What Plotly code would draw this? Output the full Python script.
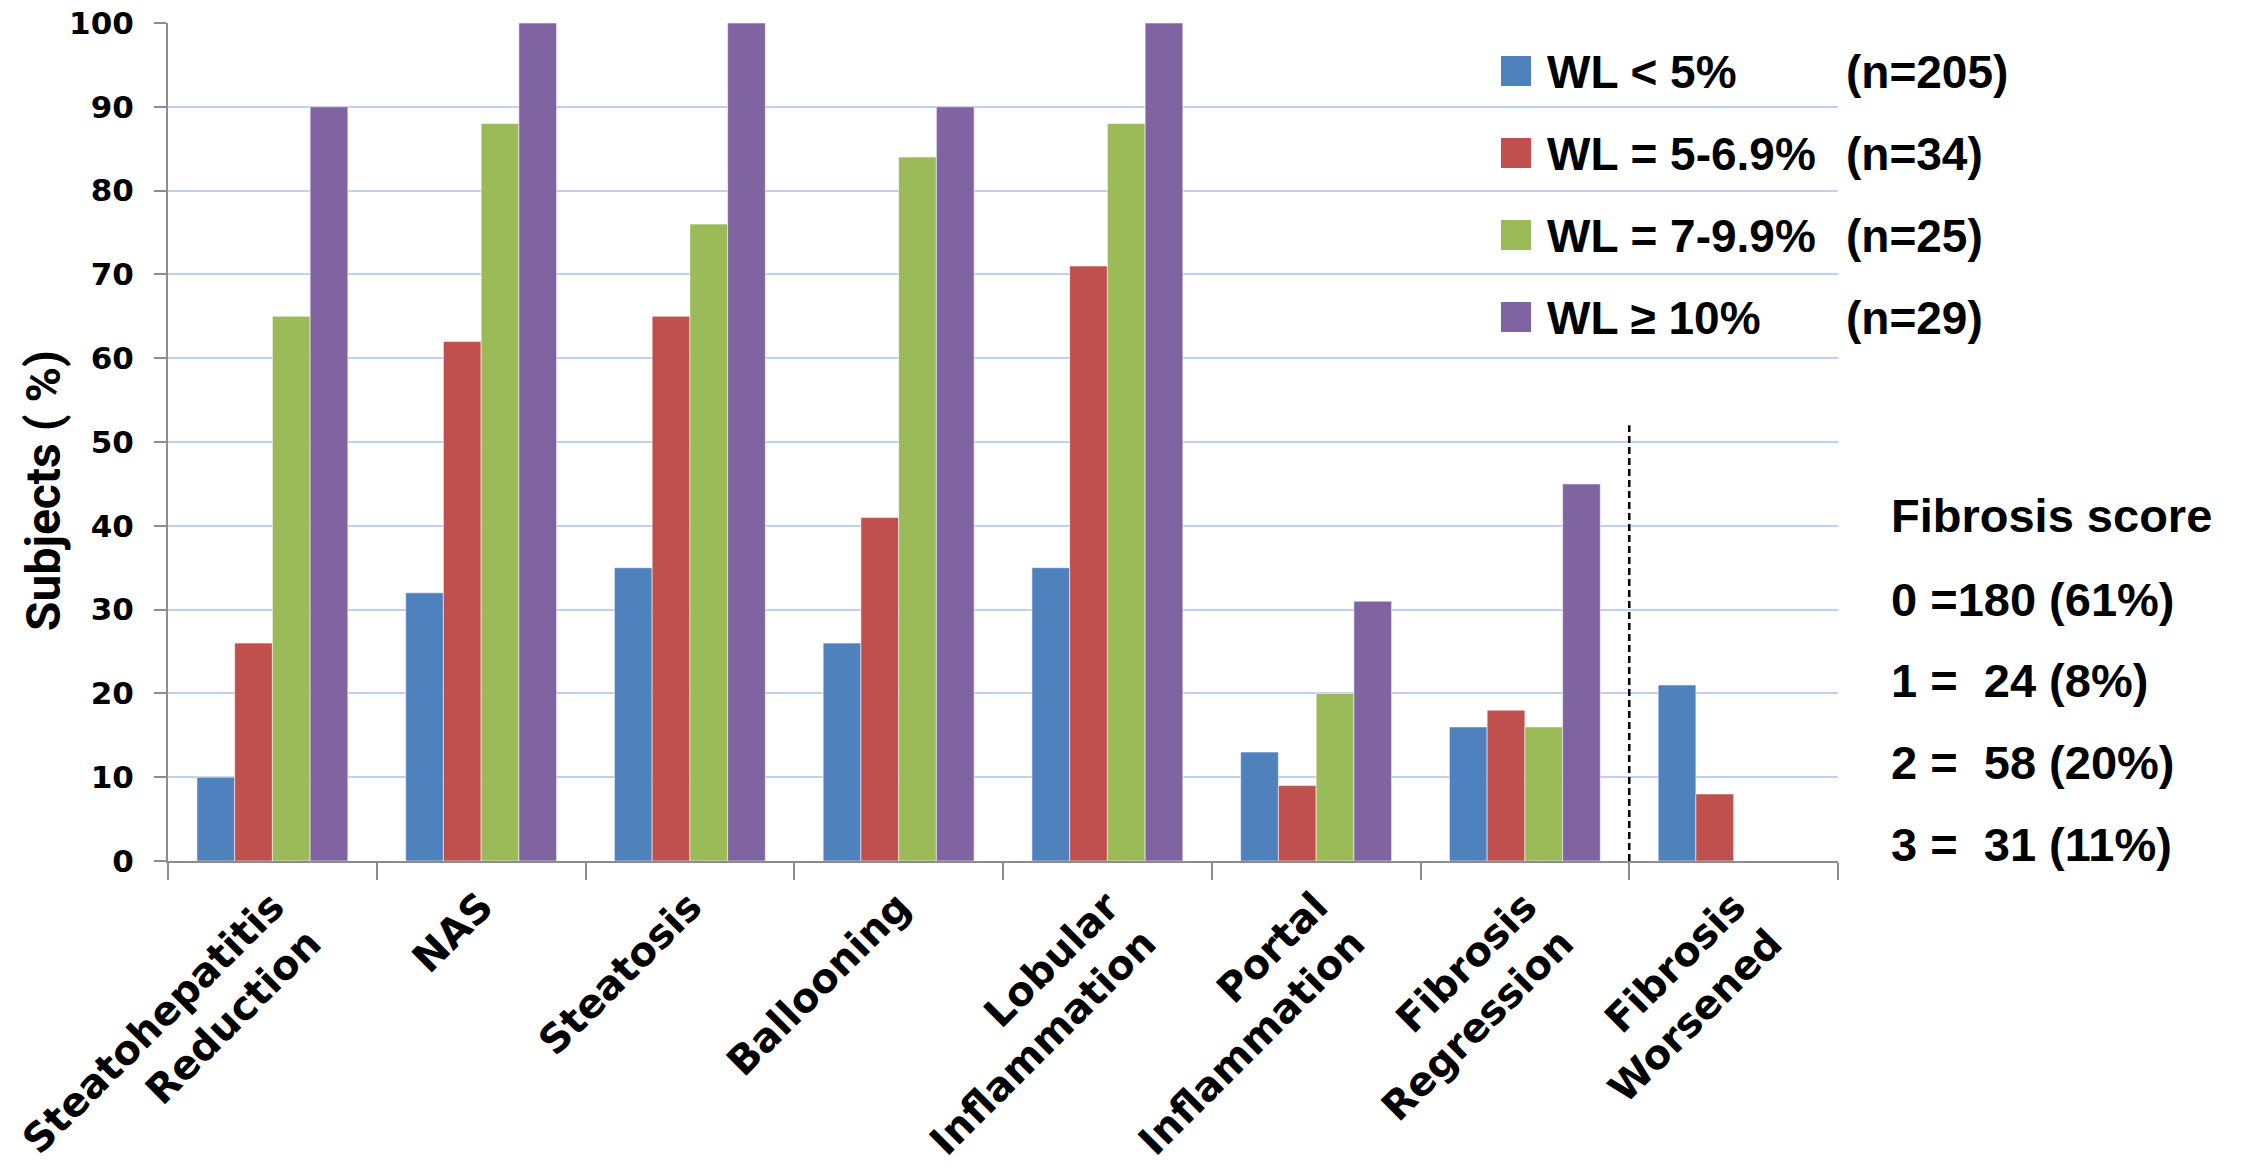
import plotly.graph_objects as go

# Histological outcome categories (x axis)
categories = [
    "Steatohepatitis<br>Reduction",
    "NAS",
    "Steatosis",
    "Ballooning",
    "Lobular<br>Inflammation",
    "Portal<br>Inflammation",
    "Fibrosis<br>Regression",
    "Fibrosis<br>Worsened",
]

# Weight-loss groups and their sizes
group_names = ["WL < 5%", "WL = 5-6.9%", "WL = 7-9.9%", "WL \u2265 10%"]
group_n = [205, 34, 25, 29]
group_colors = ["#4F81BD", "#C0504D", "#9BBB59", "#8064A2"]

# Subjects (%) per category for each weight-loss group
wl_lt5 = [10, 32, 35, 26, 35, 13, 16, 21]
wl_5_69 = [26, 62, 65, 41, 71, 9, 18, 8]
wl_7_99 = [65, 88, 76, 84, 88, 20, 16, None]
wl_ge10 = [90, 100, 100, 90, 100, 31, 45, None]
series = [wl_lt5, wl_5_69, wl_7_99, wl_ge10]

# Baseline fibrosis score distribution
fib_scores = [0, 1, 2, 3]
fib_counts = [180, 24, 58, 31]
fib_pct = [61, 8, 20, 11]

# Height of the separator before the last category (in axis units)
separator_top = 52

# Plot box in pixels
W, H = 2241, 1169
L, R, T, B = 168, 1838, 23, 861


def px_x(px):
    return (px - L) / (R - L)


def px_y(py):
    return (B - py) / (B - T)


AXIS_GRAY = "#8C8C8C"
GRID_BLUE = "#C0D1EE"
TEXT_FONT = dict(family="Liberation Sans, Arial, sans-serif", size=46, color="black", weight="bold")
FIB_FONT = dict(family="Liberation Sans, Arial, sans-serif", size=47, color="black", weight="bold")

fig = go.Figure()
for name, vals, color in zip(group_names, series, group_colors):
    fig.add_trace(go.Bar(
        x=categories,
        y=vals,
        name=name,
        marker=dict(color=color, line=dict(color="rgba(255,255,255,0.55)", width=1)),
        showlegend=False,
    ))

# Dashed separator between "Fibrosis Regression" and "Fibrosis Worsened"
fig.add_shape(type="line", xref="x", yref="y",
              x0=len(categories) - 1.5, x1=len(categories) - 1.5,
              y0=0, y1=separator_top,
              line=dict(color="black", width=2.5, dash="7px,4px"))

annotations = []
shapes = []

# Legend block: colour squares, group names and sizes
row_y = [71, 153, 235, 317]
for name, n, color, ry in zip(group_names, group_n, group_colors, row_y):
    shapes.append(dict(type="rect", xref="paper", yref="paper",
                       x0=px_x(1501), x1=px_x(1531), y0=px_y(ry + 15), y1=px_y(ry - 15),
                       fillcolor=color, line=dict(width=0)))
    annotations.append(dict(text=name, xref="paper", yref="paper", x=px_x(1545), y=px_y(ry + 1),
                            xanchor="left", yanchor="middle", showarrow=False, font=TEXT_FONT))
    annotations.append(dict(text=f"(n={n})", xref="paper", yref="paper", x=px_x(1844), y=px_y(ry + 1),
                            xanchor="left", yanchor="middle", showarrow=False, font=TEXT_FONT))

# Fibrosis score block
fib_lines = ["Fibrosis score"]
for s, c, p in zip(fib_scores, fib_counts, fib_pct):
    if c >= 100:
        fib_lines.append(f"{s} ={c} ({p}%)")
    else:
        fib_lines.append(f"{s} =\u00a0\u00a0{c} ({p}%)")
fib_y = [513, 597, 678, 760, 842]
for line, fy in zip(fib_lines, fib_y):
    annotations.append(dict(text=line, xref="paper", yref="paper", x=px_x(1889), y=px_y(fy + 2),
                            xanchor="left", yanchor="middle", showarrow=False, font=FIB_FONT))

# Y axis title
annotations.append(dict(text="Subjects ( %)", xref="paper", yref="paper", x=px_x(43), y=px_y(491),
                        xanchor="center", yanchor="middle", textangle=-90, showarrow=False,
                        font=dict(family="Roboto, sans-serif", size=48, color="black", weight="bold")))

fig.update_layout(
    width=W, height=H,
    margin=dict(l=L, r=W - R, t=T, b=H - B, autoexpand=False),
    paper_bgcolor="white",
    plot_bgcolor="white",
    barmode="group",
    bargap=0.277,
    bargroupgap=0,
    shapes=list(fig.layout.shapes) + shapes,
    annotations=annotations,
)

fig.update_xaxes(
    type="category",
    showgrid=False,
    showline=True, linecolor=AXIS_GRAY, linewidth=2,
    ticks="outside", tickson="boundaries", ticklen=17, tickwidth=2, tickcolor=AXIS_GRAY,
    tickangle=-45,
    tickfont=dict(family="DejaVu Sans, Verdana, sans-serif", size=40, color="black", weight="bold"),
    ticklabelstandoff=4,
)

fig.update_yaxes(
    range=[0, 100], dtick=10,
    showgrid=True, gridcolor=GRID_BLUE, gridwidth=2,
    zeroline=False,
    showline=True, linecolor=AXIS_GRAY, linewidth=2,
    ticks="outside", ticklen=12, tickwidth=2, tickcolor=AXIS_GRAY,
    tickfont=dict(family="DejaVu Sans, Verdana, sans-serif", size=31, color="black", weight="bold"),
    ticklabelstandoff=14,
)

fig.write_html("out.html")
